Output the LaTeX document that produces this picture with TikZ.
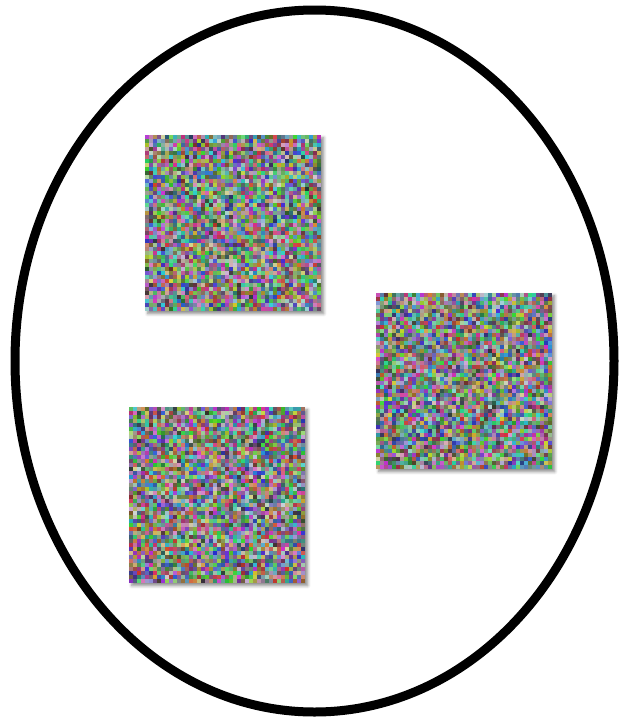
\documentclass[tikz,border=0pt]{standalone}
\usepackage{tikz}
\usetikzlibrary{positioning, shadows.blur}
\usepackage{xcolor}

% random coloured cells filling the node #1
\newcommand{\noisefill}[1]{%
  \begin{scope}[shift={(#1.north west)}]
    \foreach \i in {0,...,43}{
      \foreach \j in {0,...,43}{
        \pgfmathsetmacro\rr{0.15+0.7*rnd}
        \pgfmathsetmacro\gg{0.18+0.67*rnd}
        \pgfmathsetmacro\bb{0.15+0.7*rnd}
        \definecolor{pix}{rgb}{\rr,\gg,\bb}
        \fill[pix] (\i*4,\j*4) rectangle ++(4.3,4.3);
      }
    }
  \end{scope}}

\begin{document}
\begin{tikzpicture}[
  x=1pt, y=-1pt,
  outline/.style={draw=black, line width=9pt},
  patch/.style={rectangle, minimum size=176pt, inner sep=0pt, fill=gray!60,
    blur shadow={shadow xshift=2.5pt, shadow yshift=-2.5pt,
      shadow blur radius=3pt, shadow opacity=45}}
]
\pgfmathsetseed{4711}
\useasboundingbox (0,0) rectangle (629,726);

% Ellipse
\draw[outline] (314.5,361) ellipse (299.5 and 351);

% Patches
\node[patch, anchor=north west] (sqA) at (145,135) {};
\node[patch, anchor=north west] (sqB) at (376,293) {};
\node[patch, anchor=north west] (sqC) at (129,407) {};

\noisefill{sqA}
\noisefill{sqB}
\noisefill{sqC}

\end{tikzpicture}
\end{document}
